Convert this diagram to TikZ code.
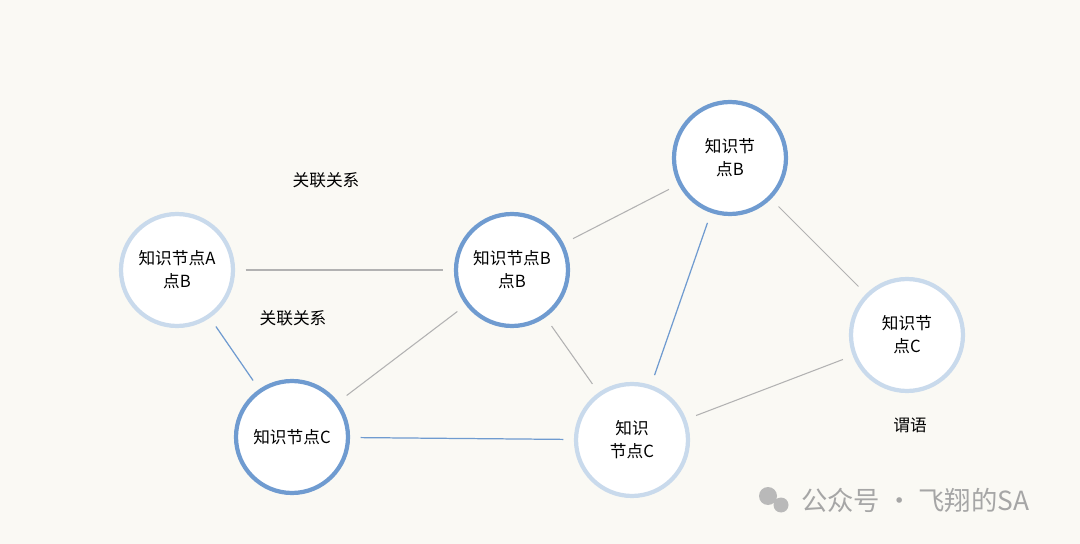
\documentclass[tikz,border=0pt]{standalone}
\usepackage{fontspec}
\setmainfont{Noto Sans CJK SC}
\usetikzlibrary{positioning}
\definecolor{bgcol}{HTML}{FAF9F4}
\definecolor{darkring}{HTML}{6F9BD0}
\definecolor{lightring}{HTML}{C9DAEC}
\definecolor{blueline}{HTML}{6F9BD0}
\tikzstyle{dnode}=[circle, draw=darkring, line width=2.4pt, fill=white, minimum size=2.24cm, inner sep=0pt, align=center, font=\fontsize{9.5}{13}\selectfont]
\tikzstyle{lnode}=[dnode, draw=lightring]
\tikzstyle{gline}=[draw=gray!60, line width=0.6pt, shorten >=6pt, shorten <=6pt]
\tikzstyle{bline}=[draw=blueline, line width=0.7pt, shorten >=6pt, shorten <=6pt]
\tikzstyle{tlabel}=[font=\fontsize{9.5}{13}\selectfont]
\begin{document}
\begin{tikzpicture}[x=0.02cm, y=-0.02cm]
    \fill[bgcol] (0,0) rectangle (1080,544);
    \useasboundingbox (0,0) rectangle (1080,544);

% nodes
    \node (ka) [lnode] at (177,270) {知识节点A\\点B};
    \node (kb) [dnode] at (512,270) {知识节点B\\点B};
    \node (kbt) [dnode] at (730,158) {知识节\\点B};
    \node (kc) [dnode] at (292,437) {知识节点C};
    \node (kcm) [lnode] at (632,440) {知识\\节点C};
    \node (kcr) [lnode] at (907,335) {知识节\\点C};

% labels
    \node (l1) [tlabel] at (326,180) {关联关系};
    \node (l2) [tlabel] at (293,318) {关联关系};
    \node (l3) [tlabel] at (910,425) {谓语};

% lines
   \draw[gline] (ka) -- (kb);
   \draw[bline] (ka) -- (kc);
   \draw[gline] (kc) -- (kb);
   \draw[bline] (kc) -- (kcm);
   \draw[gline] (kb) -- (kbt);
   \draw[gline] (kb) -- (kcm);
   \draw[bline] (kcm) -- (kbt);
   \draw[gline] (kbt) -- (kcr);
   \draw[gline] (kcm) -- (kcr);

% watermark
   \node (wm) [text=gray!70, font=\fontsize{15}{17}\selectfont, anchor=west] at (795,500) {公众号 · 飞翔的SA};
   \fill[gray!55] (768,496) circle (9) (781,505) circle (7.5);
\end{tikzpicture}
\end{document}
